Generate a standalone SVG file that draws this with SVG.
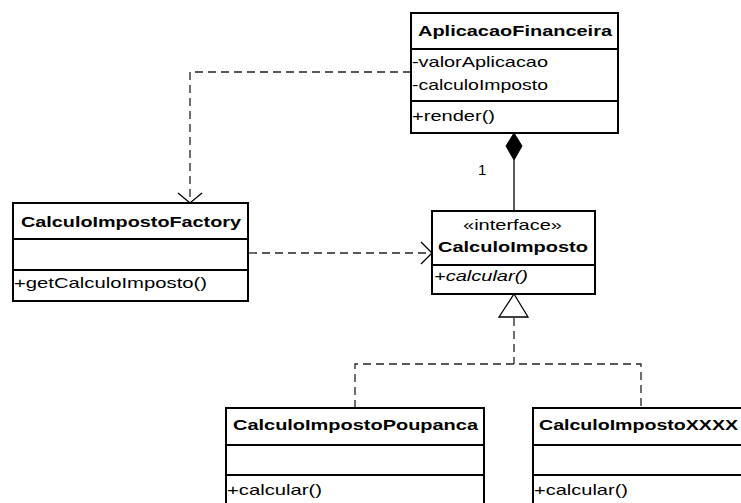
<svg xmlns="http://www.w3.org/2000/svg" width="741" height="503" viewBox="0 0 741 503">
  <style>
    .box { fill: #ffffff; stroke: #000000; stroke-width: 2; }
    .div { stroke: #000000; stroke-width: 2; }
    .t { font-family: "Liberation Sans", Arial, sans-serif; font-size: 15px; fill: #000000; }
    .b { font-weight: bold; }
    .i { font-style: italic; }
    .dash { fill: none; stroke: #222222; stroke-width: 1.3; stroke-dasharray: 8 5; }
    .solid { fill: none; stroke: #000000; stroke-width: 1.3; }
    .open { fill: none; stroke: #000000; stroke-width: 1.3; }
  </style>
  <rect width="741" height="503" fill="#ffffff"/>

  <!-- connectors -->
  <g id="connectors">
    <!-- AplicacaoFinanceira uses CalculoImpostoFactory -->
    <polyline class="dash" points="411,72 190,72 190,202"/>
    <polyline class="open" points="178,193 190,203 202,193"/>
    <!-- CalculoImpostoFactory creates CalculoImposto -->
    <line class="dash" x1="249" y1="253" x2="431" y2="253"/>
    <polyline class="open" points="421,242 432,253 421,264"/>
    <!-- composition AplicacaoFinanceira <>- CalculoImposto -->
    <line class="solid" x1="514" y1="160" x2="514" y2="211"/>
    <polygon points="514,133 522,146 514,160 506,146" fill="#000000" stroke="#000000" stroke-width="1"/>
    <text class="t" x="478" y="175" font-size="16">1</text>
    <!-- realizations of CalculoImposto -->
    <polyline class="dash" points="514,318 514,364"/>
    <polyline class="dash" points="355,408 355,364 641,364 641,408"/>
    <polygon points="514,294 528,317 499,317" fill="#ffffff" stroke="#000000" stroke-width="1.3"/>
  </g>

  <g id="AplicacaoFinanceira">
    <rect class="box" x="411" y="13" width="207" height="120"/>
    <line class="div" x1="411" y1="49" x2="618" y2="49"/>
    <line class="div" x1="411" y1="101" x2="618" y2="101"/>
    <text class="t b" x="418" y="36" textLength="194" lengthAdjust="spacingAndGlyphs">AplicacaoFinanceira</text>
    <text class="t" x="412" y="67" textLength="136" lengthAdjust="spacingAndGlyphs">-valorAplicacao</text>
    <text class="t" x="412" y="90" textLength="136" lengthAdjust="spacingAndGlyphs">-calculoImposto</text>
    <text class="t" x="412" y="121" textLength="83" lengthAdjust="spacingAndGlyphs">+render()</text>
  </g>

  <g id="CalculoImpostoFactory">
    <rect class="box" x="13" y="203" width="235" height="98"/>
    <line class="div" x1="13" y1="239" x2="248" y2="239"/>
    <line class="div" x1="13" y1="270" x2="248" y2="270"/>
    <text class="t b" x="21" y="227" textLength="220" lengthAdjust="spacingAndGlyphs">CalculoImpostoFactory</text>
    <text class="t" x="14" y="288" textLength="193" lengthAdjust="spacingAndGlyphs">+getCalculoImposto()</text>
  </g>

  <g id="CalculoImposto">
    <rect class="box" x="432" y="211" width="163" height="83"/>
    <line class="div" x1="432" y1="265" x2="595" y2="265"/>
    <text class="t" x="463" y="230" textLength="99" lengthAdjust="spacingAndGlyphs">«interface»</text>
    <text class="t b" x="438" y="252" textLength="150" lengthAdjust="spacingAndGlyphs">CalculoImposto</text>
    <text class="t i" x="434" y="281" textLength="94" lengthAdjust="spacingAndGlyphs">+calcular()</text>
  </g>

  <g id="CalculoImpostoPoupanca">
    <rect class="box" x="226" y="408" width="258" height="102"/>
    <line class="div" x1="226" y1="445" x2="484" y2="445"/>
    <line class="div" x1="226" y1="475" x2="484" y2="475"/>
    <text class="t b" x="233" y="430" textLength="245" lengthAdjust="spacingAndGlyphs">CalculoImpostoPoupanca</text>
    <text class="t" x="227" y="495" textLength="95" lengthAdjust="spacingAndGlyphs">+calcular()</text>
  </g>

  <g id="CalculoImpostoXXXX">
    <rect class="box" x="533" y="408" width="230" height="102"/>
    <line class="div" x1="533" y1="445" x2="763" y2="445"/>
    <line class="div" x1="533" y1="475" x2="763" y2="475"/>
    <text class="t b" x="539" y="430" textLength="199" lengthAdjust="spacingAndGlyphs">CalculoImpostoXXXX</text>
    <text class="t" x="534" y="495" textLength="94" lengthAdjust="spacingAndGlyphs">+calcular()</text>
  </g>
</svg>
